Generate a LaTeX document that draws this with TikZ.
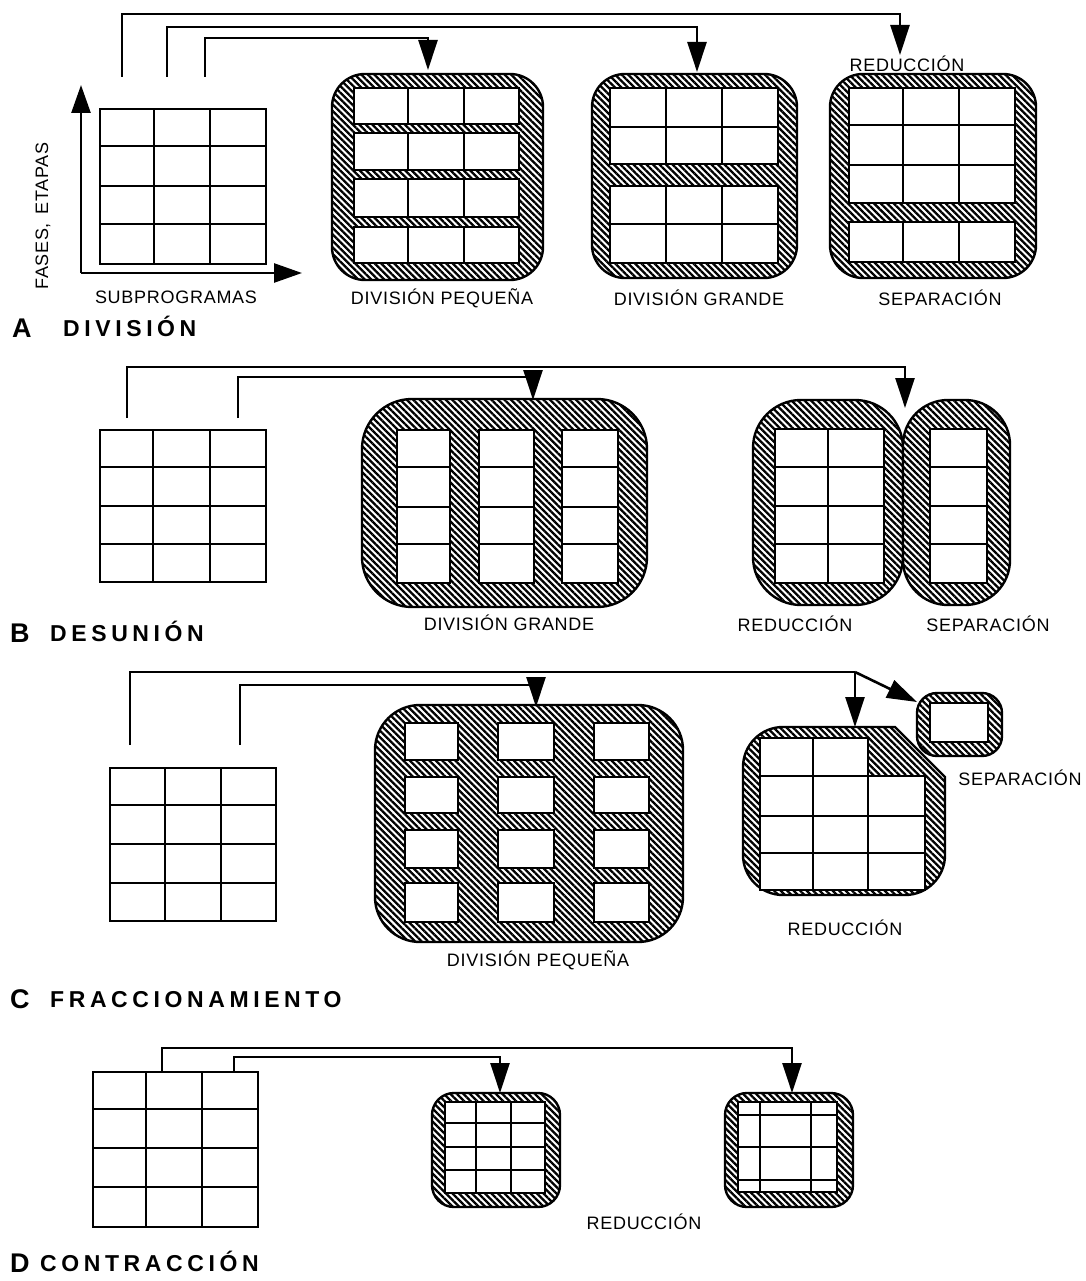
\documentclass[tikz,border=0pt]{standalone}
\usepackage{fontspec}
\setmainfont{Liberation Sans}
\newfontfamily\ttlfont[LetterSpace=20]{Liberation Sans}
\newfontfamily\labfont[LetterSpace=4]{Liberation Sans}
\usetikzlibrary{patterns.meta,arrows.meta}
\tikzset{
  gl/.style={line width=2.6pt,black},
  conn/.style={line width=2.6pt,black},
  arr/.style={conn,-{Triangle[length=30pt,width=19pt]}},
  blob/.style={draw=black,line width=2.4pt,preaction={fill=white},
    pattern={Lines[angle=-45,distance=4.6pt,line width=2.3pt]}},
  lab/.style={font=\fontsize{18}{20}\selectfont\labfont,inner sep=0pt},
  big/.style={font=\fontsize{27}{29}\selectfont\bfseries,inner sep=0pt,anchor=base west},
  ttl/.style={font=\fontsize{23}{26}\selectfont\ttlfont\bfseries,inner sep=0pt,anchor=base west},
}
\newcommand{\cgrid}[6]{%
  \fill[white] (#1,#2) rectangle (#3,#4);
  \foreach \xx in {#5} {\draw[gl] (\xx,#2) -- (\xx,#4);}
  \foreach \yy in {#6} {\draw[gl] (#1,\yy) -- (#3,\yy);}
  \draw[gl] (#1,#2) rectangle (#3,#4);
}
\begin{document}
\begin{tikzpicture}[x=1pt,y=-1pt]
\useasboundingbox[fill=white] (0,0) rectangle (1085,1281);

% ================= A =================
\cgrid{100}{109}{266}{264}{154,210}{146,186,224}
\coordinate (aO) at (81,273);
\coordinate (aY) at (81,85);
\coordinate (aX) at (302,273);
\draw[conn,-{Triangle[length=28pt,width=19pt]}] (aO) -- (aY);
\draw[conn,-{Triangle[length=28pt,width=19pt]}] (aO) -- (aX);
\node[lab,rotate=90] (fases) at (43,216) {FASES,\, ETAPAS};
\node[lab] (subp) at (176,297) {SUBPROGRAMAS};

% blob A1
\path[blob,rounded corners=33pt] (332,74) rectangle (543,280);
\cgrid{354}{88}{519}{124}{408,464}{88}
\cgrid{354}{133}{519}{170}{408,464}{133}
\cgrid{354}{179}{519}{217}{408,464}{179}
\cgrid{354}{227}{519}{263}{408,464}{227}
\node[lab] (lA1) at (442,298) {DIVISIÓN PEQUEÑA};

% blob A2
\path[blob,rounded corners=33pt] (592,74) rectangle (797,278);
\cgrid{610}{88}{778}{164}{666,722}{127}
\cgrid{610}{186}{778}{263}{666,722}{224}
\node[lab] (lA2) at (699,298) {DIVISIÓN GRANDE};

% blob A3
\path[blob,rounded corners=33pt] (830,74) rectangle (1036,278);
\cgrid{849}{88}{1015}{203}{903,959}{125,165}
\cgrid{849}{222}{1015}{262}{903,959}{222}
\node[lab] (lA3) at (940,298) {SEPARACIÓN};
\node[lab] (lA4) at (907,64) {REDUCCIÓN};

\coordinate (sA1) at (122,77);
\coordinate (sA2) at (167,77);
\coordinate (sA3) at (205,77);
\coordinate (tA1) at (428,70);
\coordinate (tA2) at (697,72);
\coordinate (tA3) at (900,55);
\draw[arr] (sA1) -- ++(0,-63) -| (tA3);
\draw[arr] (sA2) -- ++(0,-50) -| (tA2);
\draw[arr] (sA3) -- ++(0,-39) -| (tA1);

\node[big] (tA) at (12,337) {A};
\node[ttl] (ttA) at (63,336) {DIVISIÓN};

% ================= B =================
\cgrid{100}{430}{266}{582}{153,210}{467,506,544}
\path[blob,rounded corners=50pt] (362,399) rectangle (647,607);
\cgrid{397}{430}{450}{583}{397}{467,507,544}
\cgrid{479}{430}{534}{583}{479}{467,507,544}
\cgrid{562}{430}{618}{583}{562}{467,507,544}
\node[lab] (lB1) at (509,623) {DIVISIÓN GRANDE};

\path[blob,rounded corners=48pt] (753,400) rectangle (903,605);
\cgrid{775}{429}{884}{583}{828}{467,506,544}
\path[blob,rounded corners=45pt] (903,400) rectangle (1010,605);
\cgrid{930}{429}{987}{583}{930}{467,506,544}
\node[lab] (lB2) at (795,624) {REDUCCIÓN};
\node[lab] (lB3) at (988,624) {SEPARACIÓN};

\coordinate (sB1) at (127,418);
\coordinate (sB2) at (238,418);
\coordinate (tB1) at (533,400);
\coordinate (tB2) at (905,408);
\draw[arr] (sB1) -- ++(0,-51) -| (tB2);
\draw[arr] (sB2) -- ++(0,-41) -| (tB1);

\node[big] (tB) at (10,642) {B};
\node[ttl] (ttB) at (50,641) {DESUNIÓN};

% ================= C =================
\cgrid{110}{768}{276}{921}{165,221}{805,844,883}
\path[blob,rounded corners=45pt] (375,705) rectangle (683,942);
\foreach \cx/\cxx in {405/458,498/554,594/649}{
  \foreach \cy/\cyy in {723/760,777/813,830/868,883/922}{
    \fill[white] (\cx,\cy) rectangle (\cxx,\cyy);
    \draw[gl] (\cx,\cy) rectangle (\cxx,\cyy);
  }
}
\node[lab] (lC1) at (538,960) {DIVISIÓN PEQUEÑA};

\path[blob] (743,767) arc[start angle=180,end angle=270,radius=40]
  -- (895,727) -- (945,777) -- (945,855)
  arc[start angle=0,end angle=90,radius=40]
  -- (783,895) arc[start angle=90,end angle=180,radius=40] -- cycle;
\cgrid{760}{738}{868}{776}{813}{738}
\cgrid{760}{776}{925}{890}{813,868}{816,853}
\node[lab] (lC2) at (845,928) {REDUCCIÓN};

\path[blob,rounded corners=20pt] (917,693) rectangle (1002,756);
\cgrid{930}{703}{988}{742}{930}{703}
\node[lab] (lC3) at (1020,778) {SEPARACIÓN};

\coordinate (sC1) at (130,745);
\coordinate (sC2) at (240,745);
\coordinate (jC) at (855,672);
\coordinate (tC1) at (536,707);
\coordinate (tC2) at (855,727);
\coordinate (tC3) at (917,702);
\draw[conn] (sC1) |- (jC);
\draw[arr] (jC) -- (tC2);
\draw[arr] (jC) -- (tC3);
\draw[arr] (sC2) -- ++(0,-60) -| (tC1);

\node[big] (tC) at (10,1008) {C};
\node[ttl] (ttC) at (50,1007) {FRACCIONAMIENTO};

% ================= D =================
\cgrid{93}{1072}{258}{1227}{146,202}{1109,1148,1187}
\path[blob,rounded corners=22pt] (432,1093) rectangle (560,1207);
\cgrid{445}{1102}{545}{1193}{476,511}{1123,1147,1170}
\path[blob,rounded corners=22pt] (725,1093) rectangle (853,1207);
\cgrid{738}{1102}{837}{1192}{760,811}{1115,1147,1180}
\node[lab] (lD1) at (644,1222) {REDUCCIÓN};

\coordinate (sD1) at (162,1072);
\coordinate (sD2) at (234,1072);
\coordinate (tD1) at (500,1093);
\coordinate (tD2) at (792,1093);
\draw[arr] (sD1) -- ++(0,-24) -| (tD2);
\draw[arr] (sD2) -- ++(0,-15) -| (tD1);

\node[big] (tD) at (10,1272) {D};
\node[ttl] (ttD) at (40,1271) {CONTRACCIÓN};
\end{tikzpicture}
\end{document}
